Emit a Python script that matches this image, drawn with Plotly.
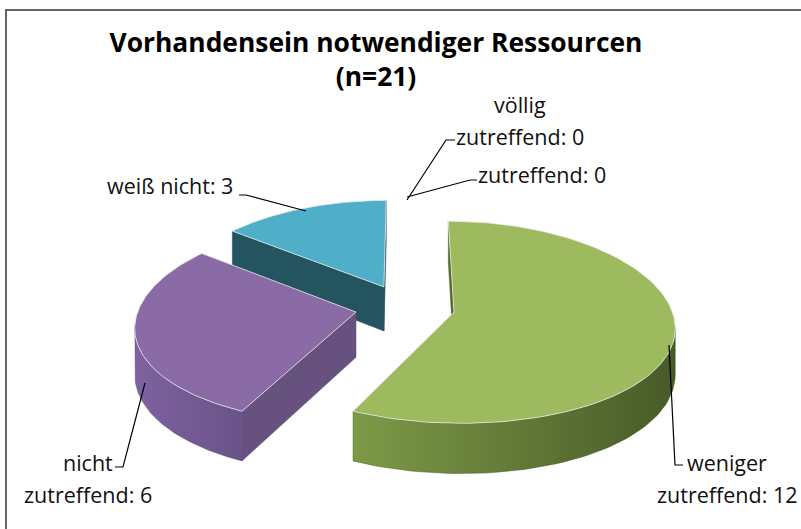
import numpy as np
import plotly.graph_objects as go

# ---------------- data ----------------
categories = ["völlig zutreffend", "zutreffend", "weniger zutreffend", "nicht zutreffend", "weiß nicht"]
values = [0, 0, 12, 6, 3]
n_total = 21
title_text = "Vorhandensein notwendiger Ressourcen<br>(n=21)"
label_text = ["völlig\nzutreffend: 0", "zutreffend: 0", "weniger\nzutreffend: 12",
              "nicht\nzutreffend: 6", "weiß nicht: 3"]

# ---------------- style ----------------
top_colors = ["#9DBB5E", "#9DBB5E", "#9DBB5E", "#8A6BA6", "#4FAFC9"]
wall_grad = [("#7D9A47", "#485A28")] * 3 + [("#7F62A0", "#6A5388"), ("#3C8799", "#255461")]
side_colors = ["#55692F", "#55692F", "#55692F", "#66517F", "#255461"]
FONT = "Open Sans, sans-serif"

W, H = 801, 529
CX, CY = 405, 307          # pie centre (pixels)
RX, RY = 217, 99           # ellipse radii
KX, KY = 0.13, 0.1         # perspective strength
DEPTH = 45                 # pie thickness
EXPLODE = 0.23             # explosion distance (fraction of radius)
CAM = np.array([0.0, -1.0 / KY])


def proj(u, v, z=0.0):
    fx = 1.0 / (1.0 + KX * v)
    fy = 1.0 / (1.0 + KY * v)
    return CX + RX * u * fx, CY - RY * v * fy + z * DEPTH * fy


def visible(normal_deg, pu, pv):
    n = np.array([np.sin(np.radians(normal_deg)), np.cos(np.radians(normal_deg))])
    return float(n @ (CAM - np.array([pu, pv]))) > 0


fig = go.Figure()

total = sum(values)
slices = []
start = 0.0
for i, val in enumerate(values):
    span = 360.0 * val / total
    a0, a1 = start, start + span
    start = a1
    if val == 0:
        continue
    m = np.radians((a0 + a1) / 2)
    ou, ov = EXPLODE * np.sin(m), EXPLODE * np.cos(m)
    slices.append((i, a0, a1, ou, ov))

# painter's order: far slices first
slices.sort(key=lambda s: -s[4])


def add_poly(xs, ys, color=None, grad=None, line=None):
    kw = dict(x=list(xs) + [xs[0]], y=list(ys) + [ys[0]], mode="lines", fill="toself",
              hoverinfo="skip", showlegend=False,
              line=line if line else dict(width=0.5, color=color or grad[1]))
    if grad:
        kw["fillgradient"] = dict(type="horizontal", colorscale=[[0, grad[0]], [1, grad[1]]])
        kw["fillcolor"] = grad[0]
    else:
        kw["fillcolor"] = color
    fig.add_trace(go.Scatter(**kw))


for i, a0, a1, ou, ov in slices:
    th = np.radians(np.linspace(a0, a1, 120))
    ru, rv = ou + np.sin(th), ov + np.cos(th)
    # radial faces
    for ang, normal in ((a0, a0 - 90), (a1, a1 + 90)):
        if visible(normal, ou, ov):
            eu, ev = ou + np.sin(np.radians(ang)), ov + np.cos(np.radians(ang))
            pts = [proj(ou, ov, 0), proj(eu, ev, 0), proj(eu, ev, 1), proj(ou, ov, 1)]
            add_poly([p[0] for p in pts], [p[1] for p in pts], color=side_colors[i])
    # outer curved wall
    vis = np.array([visible(np.degrees(t), u, v) for t, u, v in zip(th, ru, rv)])
    if vis.any():
        idx = np.where(vis)[0]
        tu, tv = ru[idx], rv[idx]
        top = [proj(u, v, 0) for u, v in zip(tu, tv)]
        bot = [proj(u, v, 1) for u, v in zip(tu, tv)][::-1]
        pts = top + bot
        add_poly([p[0] for p in pts], [p[1] for p in pts], grad=wall_grad[i])
    # top face
    pts = [proj(ou, ov, 0)] + [proj(u, v, 0) for u, v in zip(ru, rv)]
    add_poly([p[0] for p in pts], [p[1] for p in pts], color=top_colors[i],
             line=dict(width=1, color="rgba(235,235,235,0.8)"))

# ---------------- labels with leader lines ----------------
label_pos = [(520, 104), (542, 174), (727, 462), (88, 462), (170, 185)]
LINE_GAP = 32
leader_paths = [
    "M 407 200 L 446 140 L 455 140",
    "M 407 197 L 470 180 L 477 180",
    "M 669 345 L 675 465 L 683 465",
    "M 145 383 L 123 467 L 115 467",
    "M 306 211 L 246 195 L 239 195",
]
for i, txt in enumerate(label_text):
    x, y = label_pos[i]
    for k, line in enumerate(txt.split("\n")):
        fig.add_annotation(x=x, y=y + k * LINE_GAP, xref="x", yref="y", text=line, showarrow=False,
                           font=dict(family=FONT, size=21.5, color="#111111"),
                           align="center", xanchor="center", yanchor="middle")
    fig.add_shape(type="path", path=leader_paths[i], xref="x", yref="y",
                  line=dict(color="#000000", width=1.2))

# chart border
fig.add_shape(type="rect", x0=6, y0=10, x1=W + 20, y1=H + 20, xref="x", yref="y",
              line=dict(color="#666666", width=2), fillcolor="rgba(0,0,0,0)", layer="above")

fig.update_layout(
    width=W, height=H,
    margin=dict(l=0, r=0, t=0, b=0),
    paper_bgcolor="white", plot_bgcolor="white",
    title=dict(text=title_text, x=376 / W, xanchor="center", y=1 - 52 / H, yanchor="middle",
               font=dict(family=FONT, size=26.4, color="#000000", weight="bold")),
    xaxis=dict(range=[0, W], visible=False, fixedrange=True),
    yaxis=dict(range=[H, 0], visible=False, fixedrange=True),
    showlegend=False,
)

fig.write_html("out.html", config={"displayModeBar": False},
               post_script="document.body.style.margin='0';")
